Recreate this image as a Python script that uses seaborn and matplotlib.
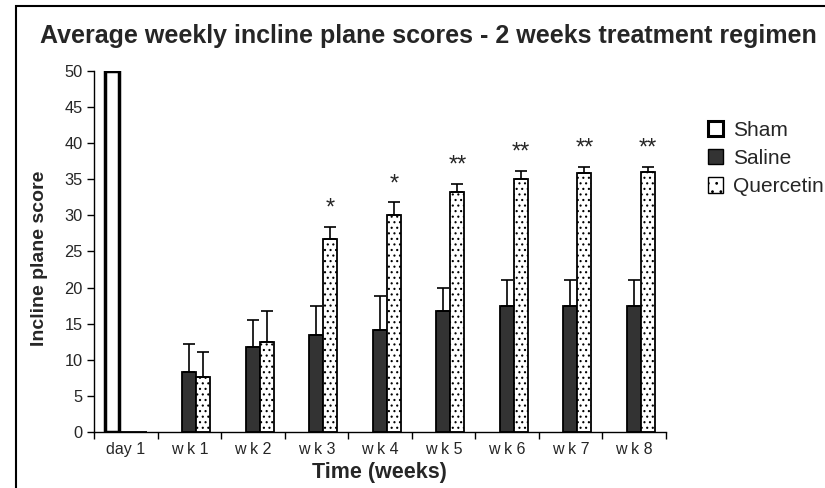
import numpy as np
import pandas as pd
import matplotlib
matplotlib.use("Agg")
import matplotlib.pyplot as plt
import seaborn as sns
from matplotlib.patches import Rectangle, Patch

times = ["day 1", "w k 1", "w k 2", "w k 3", "w k 4", "w k 5", "w k 6", "w k 7", "w k 8"]
groups = ["Sham", "Saline", "Quercetin"]

sham = [50, np.nan, np.nan, np.nan, np.nan, np.nan, np.nan, np.nan, np.nan]
saline = [0, 8.3, 11.7, 13.4, 14.1, 16.8, 17.5, 17.5, 17.5]
saline_err = [0, 3.9, 3.8, 4.1, 4.7, 3.2, 3.6, 3.6, 3.6]
quercetin = [0, 7.6, 12.5, 26.7, 30.1, 33.3, 35.0, 35.9, 36.0]
quercetin_err = [0, 3.4, 4.2, 1.7, 1.7, 1.1, 1.2, 0.8, 0.7]
stars = ["", "", "", "*", "*", "**", "**", "**", "**"]

df = pd.DataFrame({
    "Time": times * 3,
    "Group": ["Sham"] * 9 + ["Saline"] * 9 + ["Quercetin"] * 9,
    "Score": sham + saline + quercetin,
})

sns.set_theme(style="white")
plt.rcParams["font.family"] = ["Liberation Sans", "DejaVu Sans"]
plt.rcParams["hatch.color"] = "#555555"
plt.rcParams["hatch.linewidth"] = 0.8

fig = plt.figure(figsize=(8.25, 4.88), dpi=100)
ax = fig.add_axes([0.114, 0.115, 0.693, 0.7395])

colors = {"Sham": "white", "Saline": "#333333", "Quercetin": "white"}
sns.barplot(data=df, x="Time", y="Score", hue="Group", order=times, hue_order=groups,
            palette=colors, width=0.66, errorbar=None, saturation=1,
            edgecolor="black", linewidth=1.3, legend=False, ax=ax)

# bar containers come in hue order
cont = ax.containers
for p in cont[0]:
    p.set_linewidth(2.5)
for p in cont[2]:
    p.set_hatch("...")

for bars, errs in [(cont[1], saline_err), (cont[2], quercetin_err)]:
    for p, e in zip(bars, errs):
        if e > 0:
            xc = p.get_x() + p.get_width() / 2
            ax.errorbar(xc, p.get_height(), yerr=[[0], [e]], fmt="none",
                        ecolor="black", elinewidth=1.2, capsize=4.5, capthick=1.2, zorder=3)

for i, s in enumerate(stars):
    if s:
        p = cont[2][i]
        xc = p.get_x() + p.get_width() / 2
        ax.text(xc, p.get_height() + quercetin_err[i] + 1.0, s, ha="center", va="bottom",
                fontsize=17)

ax.set_ylim(0, 50)
ax.set_yticks(range(0, 51, 5))
ax.set_xlim(-0.5, len(times) - 0.5)
ax.set_xticks(np.arange(-0.5, len(times)), minor=False)
ax.set_xticklabels([])
ax.set_xticks(range(len(times)), minor=True)
ax.set_xticklabels(times, minor=True, fontsize=11.5)
ax.tick_params(axis="x", which="major", direction="out", length=5, width=1, color="black", bottom=True)
ax.tick_params(axis="x", which="minor", length=0, pad=7)
ax.tick_params(axis="y", direction="out", length=5, width=1, color="black", left=True, labelsize=11.8, pad=3)
for side in ["top", "right"]:
    ax.spines[side].set_visible(False)
for side in ["left", "bottom"]:
    ax.spines[side].set_color("black")
    ax.spines[side].set_linewidth(1)

ax.set_xlabel("Time (weeks)", fontsize=15.5, fontweight="bold", labelpad=4)
ax.set_ylabel("Incline plane score", fontsize=14, fontweight="bold", labelpad=12)
ax.yaxis.set_label_coords(-0.08, 0.48)

fig.text(0.519, 0.926, "Average weekly incline plane scores - 2 weeks treatment regimen",
         ha="center", va="center", fontsize=18, fontweight="bold")

handles = [
    Patch(facecolor="white", edgecolor="black", linewidth=2.2, label="Sham"),
    Patch(facecolor="#333333", edgecolor="black", linewidth=1, label="Saline"),
    Patch(facecolor="white", edgecolor="black", linewidth=1, hatch="..", label="Quercetin"),
]
fig.legend(handles=handles, loc="upper left", bbox_to_anchor=(0.858, 0.753), frameon=False,
           fontsize=15, handlelength=0.75, handleheight=0.75, handletextpad=0.45, labelspacing=0.45,
           borderaxespad=0, borderpad=0)

fig.patches.append(Rectangle((0.019, -0.1), 1.1, 1.088, transform=fig.transFigure,
                             fill=False, edgecolor="black", linewidth=1.5, clip_on=False))

fig.savefig("out.png", dpi=100)
